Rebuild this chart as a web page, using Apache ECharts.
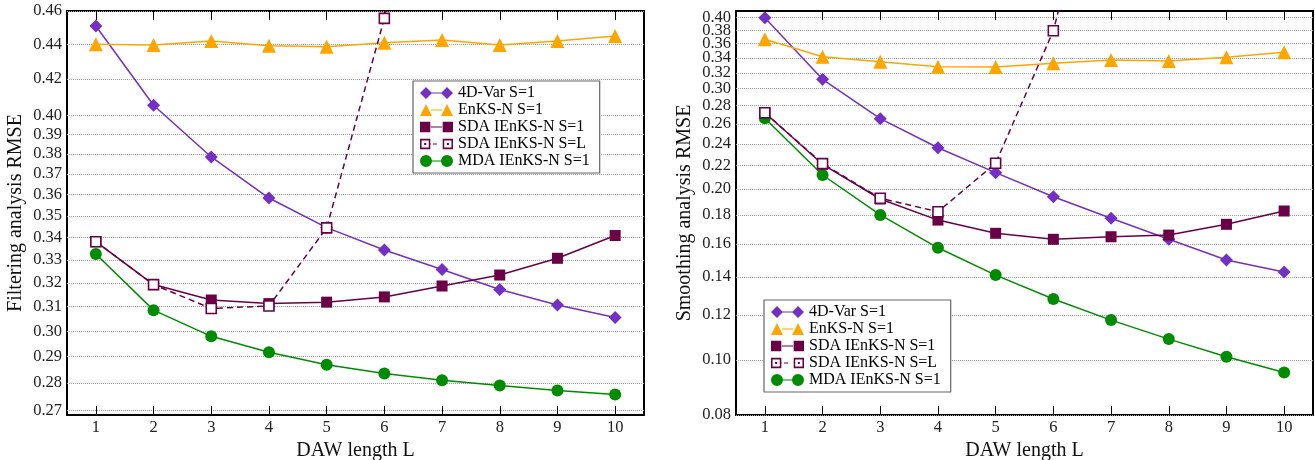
<!DOCTYPE html>
<html><head><meta charset="utf-8">
<script src="https://cdn.jsdelivr.net/npm/echarts@6/dist/echarts.min.js"></script>
<style>html,body{margin:0;padding:0;background:#fff}#c{width:1315px;height:460px}</style>
</head><body><div id="c"></div>
<script>
const categories = ['1','2','3','4','5','6','7','8','9','10'];
const seriesNames = ['4D-Var S=1','EnKS-N S=1','SDA IEnKS-N S=1','SDA IEnKS-N S=L','MDA IEnKS-N S=1'];

// Left panel: filtering analysis RMSE
const filt4DVar  = [0.4509,0.4056,0.3786,0.3584,0.3445,0.3344,0.3258,0.3172,0.3107,0.3056];
const filtEnKS   = [0.4401,0.4396,0.4419,0.4392,0.4385,0.4409,0.4425,0.4396,0.4419,0.4449];
const filtSDA1   = [0.3381,0.3193,0.3128,0.3113,0.3119,0.3141,0.3187,0.3234,0.3307,0.3409];
const filtSDAL   = [0.3381,0.3193,0.3093,0.3103,0.3444,0.4555,0.75,null,null,null];
const filtMDA    = [0.3326,0.3086,0.2980,0.2917,0.2869,0.2836,0.2810,0.2791,0.2772,0.2757];

// Right panel: smoothing analysis RMSE
const smoo4DVar  = [0.4000,0.3116,0.2657,0.2362,0.2135,0.1937,0.1775,0.1630,0.1499,0.1428];
const smooEnKS   = [0.3665,0.3415,0.3347,0.3280,0.3275,0.3325,0.3370,0.3355,0.3407,0.3477];
const smooSDA1   = [0.2722,0.2209,0.1919,0.1762,0.1670,0.1630,0.1647,0.1658,0.1732,0.1828];
const smooSDAL   = [0.2722,0.2215,0.1925,0.1823,0.2218,0.3795,0.95,null,null,null];
const smooMDA    = [0.2661,0.2115,0.1799,0.1575,0.1410,0.1280,0.1175,0.1088,0.1013,0.0950];

const leftTicks  = [0.27,0.28,0.29,0.30,0.31,0.32,0.33,0.34,0.35,0.36,0.37,0.38,0.39,0.40,0.42,0.44,0.46];
const rightTicks = [0.08,0.10,0.12,0.14,0.16,0.18,0.20,0.22,0.24,0.26,0.28,0.30,0.32,0.34,0.36,0.38,0.40];
const leftRange  = [0.2683,0.46];
const rightRange = [0.08,0.411];

const FONT = 'Liberation Serif';
const C_VAR = '#7430c2', C_ENKS = '#ffa500', C_SDA = '#6a0045', C_MDA = '#008c00';
const lg = v => v == null ? null : Math.log10(v);

// legend sample icons: marker - line - marker (drawn in a 33x12 box)
const LINE = 'M11,5.4 L22,5.4 L22,6.6 L11,6.6 Z ';
const ICONS = [
  'path://M0,6 L6,0 L12,6 L6,12 Z ' + LINE + 'M21,6 L27,0 L33,6 L27,12 Z',
  'path://M0,12 L6,0 L12,12 Z ' + LINE + 'M21,12 L27,0 L33,12 Z',
  'path://M0.5,1 L10.5,1 L10.5,11 L0.5,11 Z ' + LINE + 'M22.5,1 L32.5,1 L32.5,11 L22.5,11 Z',
  'path://M0.5,1 L10.5,1 L10.5,11 L0.5,11 Z M2,2.5 L2,9.5 L9,9.5 L9,2.5 Z M4.5,5 L6.5,5 L6.5,7 L4.5,7 Z ' +
    'M13,5.4 L17,5.4 L17,6.6 L13,6.6 Z ' +
    'M22.5,1 L32.5,1 L32.5,11 L22.5,11 Z M24,2.5 L24,9.5 L31,9.5 L31,2.5 Z M26.5,5 L28.5,5 L28.5,7 L26.5,7 Z M10,5.4 L11,5.4 L11,6.6 L10,6.6 Z',
  'path://M0,6 A6,6 0 1,1 12,6 A6,6 0 1,1 0,6 Z ' + LINE + 'M21,6 A6,6 0 1,1 33,6 A6,6 0 1,1 21,6 Z'
];
const COLORS = [C_VAR, C_ENKS, C_SDA, C_SDA, C_MDA];

function xAxes(gi){
  return [{
    type:'category', data:categories, gridIndex:gi, position:'bottom',
    boundaryGap:true,
    name:'DAW length L', nameLocation:'middle', nameGap:24,
    nameTextStyle:{fontFamily:FONT,fontSize:20,color:'#111'},
    axisLine:{show:false},
    axisTick:{show:true,inside:true,length:9,alignWithLabel:true,lineStyle:{color:'#000',width:1}},
    axisLabel:{fontFamily:FONT,fontSize:16.5,color:'#222',margin:4},
    splitLine:{show:false}
  },{
    type:'category', data:categories, gridIndex:gi, position:'top',
    boundaryGap:true,
    axisLine:{show:false},
    axisTick:{show:true,inside:true,length:9,alignWithLabel:true,lineStyle:{color:'#000',width:1}},
    axisLabel:{show:false}, splitLine:{show:false}
  }];
}
const labelStyle = {fontFamily:FONT,fontSize:16.5,color:'#222',margin:5,
  formatter:v => Math.pow(10,v).toFixed(2)};
// main axis: grid lines at all ticks, labels at given subset
function yAxis(gi, ticks, labels, range, name){
  return {
    type:'value', gridIndex:gi, min:Math.log10(range[0]), max:Math.log10(range[1]),
    name:name, nameLocation:'middle', nameGap:41,
    nameTextStyle:{fontFamily:FONT,fontSize:20,color:'#111'},
    axisLine:{show:false},
    axisTick:{show:false, customValues:ticks.map(Math.log10)},
    axisLabel:Object.assign({customValues:labels.map(Math.log10), hideOverlap:false}, labelStyle),
    splitLine:{show:true,lineStyle:{color:'#a0a0a0',width:1,type:[1,1]}}
  };
}
// overlay axis carrying the remaining labels only
function yLabelAxis(gi, labels, range){
  return {
    type:'value', gridIndex:gi, position:'left', offset:0,
    min:Math.log10(range[0]), max:Math.log10(range[1]),
    axisLine:{show:false}, axisTick:{show:false, customValues:labels.map(Math.log10)},
    axisLabel:Object.assign({customValues:labels.map(Math.log10), hideOverlap:false}, labelStyle),
    splitLine:{show:false}
  };
}
const rightLabelsA = rightTicks.filter((t,i) => i % 2 === 0);
const rightLabelsB = rightTicks.filter((t,i) => i % 2 === 1);

function mk(name, data, gi, color, symbol, size, opts){
  opts = opts || {};
  return {
    name:name, type:'line', xAxisIndex:gi*2, yAxisIndex:gi,
    data:data.map(lg), symbol:symbol, symbolSize:size, showSymbol:true,
    connectNulls:false, clip:true, animation:false,
    lineStyle:{color:color,width:1.5,type:opts.dash ? [6,4] : 'solid'},
    itemStyle: opts.open ? {color:'#fff',borderColor:color,borderWidth:1.6} : {color:color,borderColor:color,borderWidth:0},
    z: opts.z || 3
  };
}
function panelSeries(gi, d){
  return [
    mk(seriesNames[0], d[0], gi, C_VAR, 'diamond', 13, {z:3}),
    mk(seriesNames[1], d[1], gi, C_ENKS, 'triangle', 14, {z:3}),
    mk(seriesNames[2], d[2], gi, C_SDA, 'rect', 11, {z:4}),
    mk(seriesNames[3], d[3], gi, C_SDA, 'rect', 10, {dash:true, open:true, z:5}),
    mk(seriesNames[4], d[4], gi, C_MDA, 'circle', 12, {z:3})
  ];
}
function legend(left, top){
  return {
    data:seriesNames.map((n,i) => ({name:n, icon:ICONS[i],
      itemStyle:{color:COLORS[i], borderWidth:0}})),
    orient:'vertical', left:left, top:top,
    itemWidth:33, itemHeight:12, itemGap:1,
    padding:[4,10,4,7], backgroundColor:'#fff', borderColor:'#666', borderWidth:1.2, borderRadius:0,
    textStyle:{fontFamily:FONT,fontSize:16,color:'#000'}, selectedMode:false
  };
}
const chart = echarts.init(document.getElementById('c'), null, {renderer:'canvas'});
chart.setOption({
  animation:false,
  backgroundColor:'#fff',
  grid:[
    {left:67, top:11, right:671, bottom:45, outerBoundsMode:'none', containLabel:false,
     show:true, borderColor:'#000', borderWidth:2, backgroundColor:'transparent'},
    {left:736, top:11, right:2, bottom:45, outerBoundsMode:'none', containLabel:false,
     show:true, borderColor:'#000', borderWidth:2, backgroundColor:'transparent'}
  ],
  xAxis:[...xAxes(0), ...xAxes(1)],
  yAxis:[
    yAxis(0, leftTicks, leftTicks, leftRange, 'Filtering analysis RMSE'),
    yAxis(1, rightTicks, rightLabelsA, rightRange, 'Smoothing analysis RMSE'),
    yLabelAxis(1, rightLabelsB, rightRange)
  ],
  legend:[legend(413,81), legend(764,300)],
  series:[
    ...panelSeries(0,[filt4DVar,filtEnKS,filtSDA1,filtSDAL,filtMDA]),
    ...panelSeries(1,[smoo4DVar,smooEnKS,smooSDA1,smooSDAL,smooMDA])
  ]
});
</script></body></html>
